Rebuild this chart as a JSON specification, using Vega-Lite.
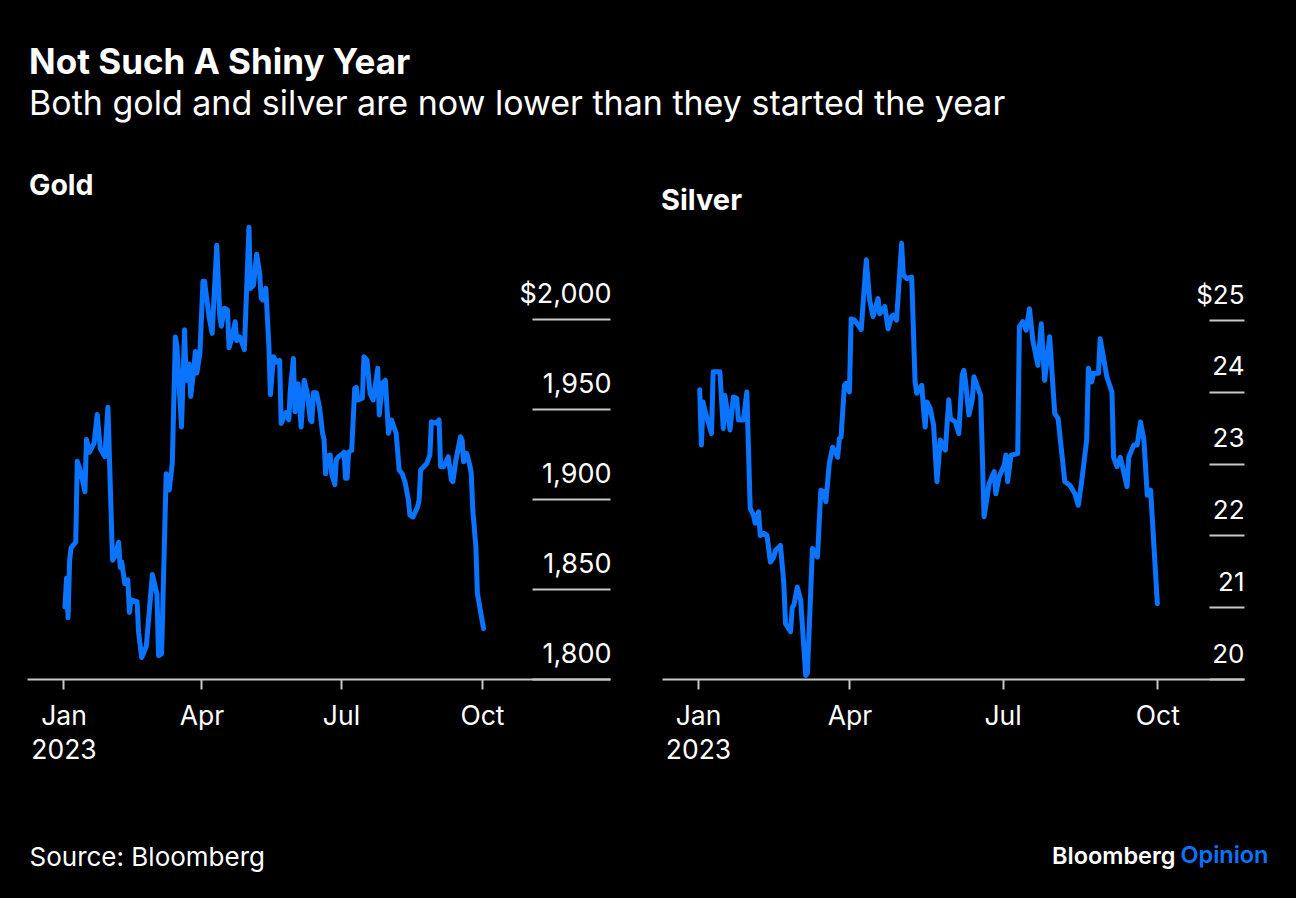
{
  "$schema": "https://vega.github.io/schema/vega-lite/v6.json",
  "background": "#000000",
  "autosize": {"type": "pad"},
  "padding": {"left": 27, "right": 28, "top": 46, "bottom": 34},
  "title": {
    "text": "Not Such A Shiny Year",
    "subtitle": "Both gold and silver are now lower than they started the year",
    "anchor": "start",
    "frame": "group",
    "font": "Inter",
    "fontSize": 35,
    "fontWeight": "bold",
    "color": "#ffffff",
    "subtitleFont": "Inter",
    "subtitleFontSize": 34,
    "subtitleColor": "#ffffff",
    "subtitlePadding": 7,
    "offset": 50,
    "dx": 2
  },
  "datasets": {
    "gold": [
      {"date": "2023-01-02", "price": 1840}, {"date": "2023-01-03", "price": 1856}, {"date": "2023-01-04", "price": 1834},
      {"date": "2023-01-05", "price": 1866}, {"date": "2023-01-06", "price": 1873}, {"date": "2023-01-09", "price": 1876},
      {"date": "2023-01-10", "price": 1921}, {"date": "2023-01-12", "price": 1916}, {"date": "2023-01-15", "price": 1904},
      {"date": "2023-01-16", "price": 1933}, {"date": "2023-01-18", "price": 1926}, {"date": "2023-01-21", "price": 1931},
      {"date": "2023-01-23", "price": 1947}, {"date": "2023-01-25", "price": 1928}, {"date": "2023-01-28", "price": 1923.5},
      {"date": "2023-01-30", "price": 1951}, {"date": "2023-02-02", "price": 1866}, {"date": "2023-02-04", "price": 1869},
      {"date": "2023-02-06", "price": 1876}, {"date": "2023-02-07", "price": 1862}, {"date": "2023-02-08", "price": 1865},
      {"date": "2023-02-10", "price": 1853}, {"date": "2023-02-12", "price": 1855}, {"date": "2023-02-13", "price": 1837},
      {"date": "2023-02-14", "price": 1844}, {"date": "2023-02-18", "price": 1843}, {"date": "2023-02-19", "price": 1826},
      {"date": "2023-02-21", "price": 1812}, {"date": "2023-02-24", "price": 1818}, {"date": "2023-02-26", "price": 1838},
      {"date": "2023-02-28", "price": 1858}, {"date": "2023-03-03", "price": 1847}, {"date": "2023-03-04", "price": 1813},
      {"date": "2023-03-06", "price": 1814}, {"date": "2023-03-09", "price": 1914}, {"date": "2023-03-11", "price": 1905},
      {"date": "2023-03-13", "price": 1920}, {"date": "2023-03-15", "price": 1990}, {"date": "2023-03-16", "price": 1985},
      {"date": "2023-03-19", "price": 1940}, {"date": "2023-03-21", "price": 1994}, {"date": "2023-03-22", "price": 1966},
      {"date": "2023-03-24", "price": 1975}, {"date": "2023-03-25", "price": 1957}, {"date": "2023-03-27", "price": 1972},
      {"date": "2023-03-28", "price": 1982}, {"date": "2023-03-29", "price": 1970}, {"date": "2023-03-31", "price": 1981},
      {"date": "2023-04-02", "price": 2021}, {"date": "2023-04-03", "price": 2021}, {"date": "2023-04-06", "price": 2001},
      {"date": "2023-04-08", "price": 1992}, {"date": "2023-04-11", "price": 2041}, {"date": "2023-04-13", "price": 2001},
      {"date": "2023-04-14", "price": 1996}, {"date": "2023-04-16", "price": 2006}, {"date": "2023-04-18", "price": 2005},
      {"date": "2023-04-19", "price": 1984}, {"date": "2023-04-21", "price": 1990}, {"date": "2023-04-23", "price": 1998.5},
      {"date": "2023-04-24", "price": 1988}, {"date": "2023-04-26", "price": 1990}, {"date": "2023-04-29", "price": 1983},
      {"date": "2023-05-02", "price": 2051}, {"date": "2023-05-03", "price": 2017}, {"date": "2023-05-05", "price": 2019},
      {"date": "2023-05-07", "price": 2036}, {"date": "2023-05-09", "price": 2025}, {"date": "2023-05-10", "price": 2011.5},
      {"date": "2023-05-11", "price": 2010.6}, {"date": "2023-05-13", "price": 2017}, {"date": "2023-05-15", "price": 1985},
      {"date": "2023-05-16", "price": 1958}, {"date": "2023-05-18", "price": 1979}, {"date": "2023-05-20", "price": 1976},
      {"date": "2023-05-22", "price": 1977}, {"date": "2023-05-23", "price": 1942}, {"date": "2023-05-26", "price": 1948},
      {"date": "2023-05-28", "price": 1944}, {"date": "2023-05-29", "price": 1961}, {"date": "2023-05-31", "price": 1978},
      {"date": "2023-06-01", "price": 1948.5}, {"date": "2023-06-03", "price": 1964}, {"date": "2023-06-05", "price": 1940},
      {"date": "2023-06-07", "price": 1966}, {"date": "2023-06-09", "price": 1959}, {"date": "2023-06-11", "price": 1944},
      {"date": "2023-06-12", "price": 1943}, {"date": "2023-06-13", "price": 1959}, {"date": "2023-06-15", "price": 1959},
      {"date": "2023-06-17", "price": 1951}, {"date": "2023-06-19", "price": 1936.5}, {"date": "2023-06-20", "price": 1933},
      {"date": "2023-06-21", "price": 1914}, {"date": "2023-06-22", "price": 1923.5}, {"date": "2023-06-24", "price": 1924.4},
      {"date": "2023-06-25", "price": 1914}, {"date": "2023-06-27", "price": 1908}, {"date": "2023-06-28", "price": 1922},
      {"date": "2023-06-30", "price": 1924}, {"date": "2023-07-02", "price": 1925}, {"date": "2023-07-03", "price": 1926},
      {"date": "2023-07-04", "price": 1911.5}, {"date": "2023-07-05", "price": 1911.5}, {"date": "2023-07-06", "price": 1926},
      {"date": "2023-07-08", "price": 1927}, {"date": "2023-07-10", "price": 1961.5}, {"date": "2023-07-11", "price": 1962},
      {"date": "2023-07-12", "price": 1955}, {"date": "2023-07-15", "price": 1956}, {"date": "2023-07-16", "price": 1979},
      {"date": "2023-07-18", "price": 1977}, {"date": "2023-07-20", "price": 1958.7}, {"date": "2023-07-22", "price": 1955},
      {"date": "2023-07-23", "price": 1960.6}, {"date": "2023-07-25", "price": 1972.6}, {"date": "2023-07-26", "price": 1946.7},
      {"date": "2023-07-28", "price": 1964.3}, {"date": "2023-07-30", "price": 1966}, {"date": "2023-08-01", "price": 1936.5},
      {"date": "2023-08-03", "price": 1943.9}, {"date": "2023-08-06", "price": 1936.5}, {"date": "2023-08-08", "price": 1916},
      {"date": "2023-08-10", "price": 1914}, {"date": "2023-08-12", "price": 1908.7}, {"date": "2023-08-14", "price": 1899.4},
      {"date": "2023-08-15", "price": 1891}, {"date": "2023-08-17", "price": 1890}, {"date": "2023-08-20", "price": 1895.7},
      {"date": "2023-08-21", "price": 1899.4}, {"date": "2023-08-22", "price": 1916.1}, {"date": "2023-08-24", "price": 1917.9},
      {"date": "2023-08-26", "price": 1919.8}, {"date": "2023-08-28", "price": 1924.4}, {"date": "2023-08-29", "price": 1942.9},
      {"date": "2023-09-01", "price": 1942.1}, {"date": "2023-09-03", "price": 1943.9}, {"date": "2023-09-04", "price": 1917.9},
      {"date": "2023-09-06", "price": 1917.9}, {"date": "2023-09-08", "price": 1921.7}, {"date": "2023-09-09", "price": 1923.5},
      {"date": "2023-09-11", "price": 1910.6}, {"date": "2023-09-12", "price": 1909.6}, {"date": "2023-09-14", "price": 1921.7},
      {"date": "2023-09-17", "price": 1934.6}, {"date": "2023-09-18", "price": 1932.8}, {"date": "2023-09-19", "price": 1920.7},
      {"date": "2023-09-21", "price": 1925.4}, {"date": "2023-09-23", "price": 1918.9}, {"date": "2023-09-24", "price": 1914.3},
      {"date": "2023-09-25", "price": 1893.9}, {"date": "2023-09-27", "price": 1873.5}, {"date": "2023-09-28", "price": 1847.6},
      {"date": "2023-10-02", "price": 1828}
    ],
    "silver": [
      {"date": "2023-01-02", "price": 24.03}, {"date": "2023-01-03", "price": 23.26}, {"date": "2023-01-04", "price": 23.86},
      {"date": "2023-01-05", "price": 23.75}, {"date": "2023-01-09", "price": 23.42}, {"date": "2023-01-10", "price": 24.28},
      {"date": "2023-01-14", "price": 24.28}, {"date": "2023-01-16", "price": 23.49}, {"date": "2023-01-17", "price": 23.95},
      {"date": "2023-01-20", "price": 23.47}, {"date": "2023-01-22", "price": 23.93}, {"date": "2023-01-24", "price": 23.91},
      {"date": "2023-01-25", "price": 23.61}, {"date": "2023-01-28", "price": 23.61}, {"date": "2023-01-30", "price": 24.0},
      {"date": "2023-02-01", "price": 22.38}, {"date": "2023-02-03", "price": 22.28}, {"date": "2023-02-04", "price": 22.17},
      {"date": "2023-02-06", "price": 22.33}, {"date": "2023-02-07", "price": 22.0}, {"date": "2023-02-09", "price": 22.03},
      {"date": "2023-02-11", "price": 22.0}, {"date": "2023-02-13", "price": 21.63}, {"date": "2023-02-15", "price": 21.7},
      {"date": "2023-02-16", "price": 21.79}, {"date": "2023-02-19", "price": 21.86}, {"date": "2023-02-21", "price": 21.33},
      {"date": "2023-02-22", "price": 20.77}, {"date": "2023-02-25", "price": 20.66}, {"date": "2023-02-26", "price": 21.0},
      {"date": "2023-02-27", "price": 21.03}, {"date": "2023-03-01", "price": 21.28}, {"date": "2023-03-03", "price": 21.1},
      {"date": "2023-03-06", "price": 20.05}, {"date": "2023-03-07", "price": 20.08}, {"date": "2023-03-10", "price": 21.82},
      {"date": "2023-03-13", "price": 21.7}, {"date": "2023-03-15", "price": 22.63}, {"date": "2023-03-17", "price": 22.61},
      {"date": "2023-03-18", "price": 22.47}, {"date": "2023-03-20", "price": 23.0}, {"date": "2023-03-22", "price": 23.23},
      {"date": "2023-03-25", "price": 23.09}, {"date": "2023-03-26", "price": 23.35}, {"date": "2023-03-27", "price": 23.37},
      {"date": "2023-03-29", "price": 24.09}, {"date": "2023-03-30", "price": 24.12}, {"date": "2023-04-01", "price": 24.0},
      {"date": "2023-04-02", "price": 25.02}, {"date": "2023-04-04", "price": 25.0}, {"date": "2023-04-08", "price": 24.87},
      {"date": "2023-04-11", "price": 25.84}, {"date": "2023-04-13", "price": 25.28}, {"date": "2023-04-15", "price": 25.05},
      {"date": "2023-04-18", "price": 25.3}, {"date": "2023-04-19", "price": 25.09}, {"date": "2023-04-22", "price": 25.19},
      {"date": "2023-04-24", "price": 24.88}, {"date": "2023-04-26", "price": 25.05}, {"date": "2023-04-27", "price": 25.07},
      {"date": "2023-04-29", "price": 25.0}, {"date": "2023-05-02", "price": 26.07}, {"date": "2023-05-03", "price": 25.63},
      {"date": "2023-05-05", "price": 25.58}, {"date": "2023-05-08", "price": 25.6}, {"date": "2023-05-10", "price": 24.14},
      {"date": "2023-05-11", "price": 23.98}, {"date": "2023-05-14", "price": 24.09}, {"date": "2023-05-15", "price": 23.77},
      {"date": "2023-05-16", "price": 23.51}, {"date": "2023-05-17", "price": 23.86}, {"date": "2023-05-19", "price": 23.77},
      {"date": "2023-05-21", "price": 23.54}, {"date": "2023-05-23", "price": 22.75}, {"date": "2023-05-25", "price": 23.33},
      {"date": "2023-05-28", "price": 23.19}, {"date": "2023-05-30", "price": 23.89}, {"date": "2023-05-31", "price": 23.63},
      {"date": "2023-06-03", "price": 23.58}, {"date": "2023-06-05", "price": 23.42}, {"date": "2023-06-07", "price": 24.23},
      {"date": "2023-06-08", "price": 24.3}, {"date": "2023-06-09", "price": 24.14}, {"date": "2023-06-11", "price": 23.68},
      {"date": "2023-06-13", "price": 23.89}, {"date": "2023-06-14", "price": 24.21}, {"date": "2023-06-18", "price": 23.95},
      {"date": "2023-06-20", "price": 22.26}, {"date": "2023-06-23", "price": 22.72}, {"date": "2023-06-26", "price": 22.89},
      {"date": "2023-06-27", "price": 22.58}, {"date": "2023-06-29", "price": 22.82}, {"date": "2023-07-02", "price": 22.98},
      {"date": "2023-07-03", "price": 23.12}, {"date": "2023-07-04", "price": 22.75}, {"date": "2023-07-06", "price": 23.12},
      {"date": "2023-07-10", "price": 23.14}, {"date": "2023-07-11", "price": 24.91}, {"date": "2023-07-13", "price": 24.98},
      {"date": "2023-07-15", "price": 24.86}, {"date": "2023-07-17", "price": 25.16}, {"date": "2023-07-19", "price": 24.72},
      {"date": "2023-07-22", "price": 24.37}, {"date": "2023-07-24", "price": 24.95}, {"date": "2023-07-26", "price": 24.16},
      {"date": "2023-07-29", "price": 24.77}, {"date": "2023-08-01", "price": 23.7}, {"date": "2023-08-03", "price": 23.63},
      {"date": "2023-08-07", "price": 22.75}, {"date": "2023-08-10", "price": 22.7}, {"date": "2023-08-13", "price": 22.58},
      {"date": "2023-08-15", "price": 22.42}, {"date": "2023-08-17", "price": 22.75}, {"date": "2023-08-20", "price": 23.33},
      {"date": "2023-08-21", "price": 24.33}, {"date": "2023-08-23", "price": 24.14}, {"date": "2023-08-24", "price": 24.26},
      {"date": "2023-08-27", "price": 24.26}, {"date": "2023-08-28", "price": 24.74}, {"date": "2023-09-01", "price": 24.21},
      {"date": "2023-09-04", "price": 24.0}, {"date": "2023-09-05", "price": 23.09}, {"date": "2023-09-07", "price": 22.96},
      {"date": "2023-09-09", "price": 23.09}, {"date": "2023-09-13", "price": 22.68}, {"date": "2023-09-14", "price": 23.09},
      {"date": "2023-09-17", "price": 23.26}, {"date": "2023-09-19", "price": 23.26}, {"date": "2023-09-21", "price": 23.58},
      {"date": "2023-09-23", "price": 23.33}, {"date": "2023-09-25", "price": 22.56}, {"date": "2023-09-27", "price": 22.63},
      {"date": "2023-10-01", "price": 21.05}
    ]
  },
  "spacing": 52,
  "bounds": "flush",
  "hconcat": [
    {
      "width": 583,
      "height": 450,
      "title": {"text": "Gold", "anchor": "start", "offset": 1, "baseline": "alphabetic", "fontSize": 28.5, "dx": 2},
      "data": {"name": "gold"},
      "mark": {"type": "line", "color": "#0a74ff", "strokeWidth": 5, "strokeJoin": "round", "strokeCap": "round"},
      "encoding": {
        "x": {
          "field": "date",
          "type": "temporal",
          "scale": {"domain": [{"year": 2022, "month": 12, "date": 8, "hours": 5}, {"year": 2023, "month": 12, "date": 23, "hours": 12}]},
          "axis": {
            "values": [{"year": 2023, "month": 1, "date": 1}, {"year": 2023, "month": 4, "date": 1}, {"year": 2023, "month": 7, "date": 1}, {"year": 2023, "month": 10, "date": 1}],
            "labelExpr": "month(datum.value) == 0 ? ['Jan', '2023'] : timeFormat(datum.value, '%b')",
            "tickSize": 10,
            "labelPadding": 14,
            "labelFontSize": 26.5,
            "labelBaseline": "top",
            "labelLineHeight": 34,
            "title": "Source: Bloomberg",
            "titleX": 2,
            "titleY": 186,
            "titleAnchor": "start",
            "titleAlign": "left",
            "titleBaseline": "alphabetic",
            "titleFont": "Inter",
            "titleFontSize": 26,
            "titleFontWeight": "normal",
            "titleColor": "#ffffff"
          }
        },
        "y": {
          "field": "price",
          "type": "quantitative",
          "scale": {"domain": [1800, 2050], "zero": false, "nice": false},
          "axis": {
            "orient": "right",
            "values": [1800, 1850, 1900, 1950, 2000],
            "domain": false,
            "tickSize": -78,
            "labelAlign": "right",
            "labelPadding": 79,
            "labelFontSize": 27,
            "labelBaseline": "alphabetic",
            "labelOffset": -17,
            "labelExpr": "datum.value == 2000 ? '$2,000' : format(datum.value, ',')",
            "title": null
          }
        }
      }
    },
    {
      "width": 582,
      "height": 450,
      "title": {"text": "Silver", "anchor": "start", "offset": -10, "baseline": "alphabetic", "fontSize": 29, "dx": -1},
      "data": {"name": "silver"},
      "mark": {"type": "line", "color": "#0a74ff", "strokeWidth": 5, "strokeJoin": "round", "strokeCap": "round"},
      "encoding": {
        "x": {
          "field": "date",
          "type": "temporal",
          "scale": {"domain": [{"year": 2022, "month": 12, "date": 10, "hours": 14}, {"year": 2023, "month": 11, "date": 21, "hours": 12}]},
          "axis": {
            "values": [{"year": 2023, "month": 1, "date": 1}, {"year": 2023, "month": 4, "date": 1}, {"year": 2023, "month": 7, "date": 1}, {"year": 2023, "month": 10, "date": 1}],
            "labelExpr": "month(datum.value) == 0 ? ['Jan', '2023'] : timeFormat(datum.value, '%b')",
            "tickSize": 10,
            "labelPadding": 14,
            "labelFontSize": 26.5,
            "labelBaseline": "top",
            "labelLineHeight": 34,
            "title": "Bloomberg",
            "titleX": 513,
            "titleY": 184.5,
            "titleAlign": "right",
            "titleBaseline": "alphabetic",
            "titleFont": "Inter",
            "titleFontSize": 23.5,
            "titleFontWeight": 600,
            "titleColor": "#ffffff"
          }
        },
        "y": {
          "field": "price",
          "type": "quantitative",
          "scale": {"domain": [20, 26.27], "zero": false, "nice": false},
          "axis": {
            "orient": "right",
            "values": [20, 21, 22, 23, 24, 25],
            "domain": false,
            "tickSize": -35,
            "labelAlign": "right",
            "labelPadding": 35,
            "labelBaseline": "alphabetic",
            "labelOffset": -17,
            "labelExpr": "datum.value == 25 ? '$25' : datum.label",
            "title": "Opinion",
            "titleAngle": 0,
            "titleX": 24,
            "titleY": 633.5,
            "titleAlign": "right",
            "titleBaseline": "alphabetic",
            "titleFont": "Inter",
            "titleFontSize": 23.5,
            "titleFontWeight": 600,
            "titleColor": "#0a74ff"
          }
        }
      }
    }
  ],
  "config": {
    "view": {"stroke": null},
    "font": "Inter",
    "title": {"color": "#ffffff", "font": "Inter", "fontWeight": "bold"},
    "axis": {
      "labelFont": "Inter",
      "labelFontSize": 26,
      "labelColor": "#ffffff",
      "domainColor": "#c8c8c8",
      "domainWidth": 2,
      "tickColor": "#c8c8c8",
      "tickWidth": 2,
      "grid": false,
      "labelOverlap": false,
      "labelFlush": false
    }
  }
}
